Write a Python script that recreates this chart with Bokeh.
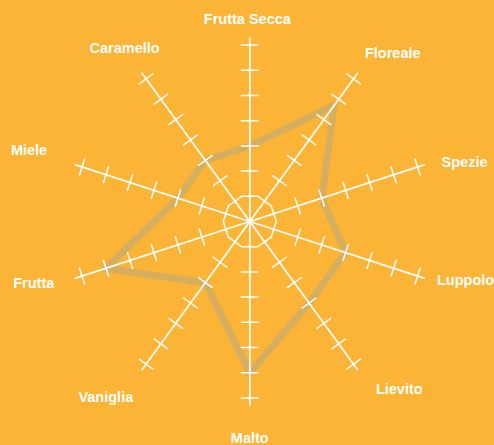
import numpy as np
from bokeh.plotting import figure
from bokeh.models import ColumnDataSource
from bokeh.core.properties import value
from bokeh.embed import file_html
from bokeh.resources import INLINE

# ---- data ----
categories = ["Frutta Secca", "Floreale", "Spezie", "Luppolo", "Lievito",
              "Malto", "Vaniglia", "Frutta", "Miele", "Caramello"]
scores = [3, 5.7, 3, 4, 4, 6, 3, 6, 3, 3]
tick_levels = [2, 3, 4, 5, 6, 7]
inner_level = 1
axis_max = 7.3

# ---- layout / style ----
W, H = 494, 445
PPU = 25.2            # pixels per unit
CX, CY = 249.3, 221.0  # centre in screen pixels
BG = "#FBB436"
DATA_COLOR = "#D6AE5F"
AXIS_COLOR = "white"
TICK_HALF = 9.0 / PPU
LABEL_RX, LABEL_RY = 232.0 / PPU, 208.0 / PPU
label_dx = [-2.5, 6.6, -5.9, -4.9, 13.1, 0.0, -7.6, 4.6, -0.1, 11.2]
label_dy = [5.0, 0.0, 5.0, -5.3, -1.0, 8.0, 7.4, -3.0, -7.7, -5.4]

n = len(categories)
angles = np.deg2rad(90 - 360.0 / n * np.arange(n))
ux, uy = np.cos(angles), np.sin(angles)

p = figure(width=W, height=H,
           x_range=(-CX / PPU, (W - CX) / PPU),
           y_range=(-(H - CY) / PPU, CY / PPU),
           output_backend="svg", toolbar_location=None,
           x_axis_location=None, y_axis_location=None,
           min_border=0, background_fill_color=BG, border_fill_color=BG,
           outline_line_color=None)
p.grid.visible = False

# data polygon
sc = np.array(scores, dtype=float)
p.patch(list(sc * ux), list(sc * uy), fill_color=None, line_color=DATA_COLOR,
        line_width=7, line_join="miter")

# axes
p.segment(x0=[0] * n, y0=[0] * n, x1=list(axis_max * ux), y1=list(axis_max * uy),
          line_color=AXIS_COLOR, line_width=1.7)

# tick marks
tx0, ty0, tx1, ty1 = [], [], [], []
for i in range(n):
    px_, py_ = -uy[i], ux[i]
    for lv in tick_levels:
        bx, by = lv * ux[i], lv * uy[i]
        tx0.append(bx - TICK_HALF * px_); ty0.append(by - TICK_HALF * py_)
        tx1.append(bx + TICK_HALF * px_); ty1.append(by + TICK_HALF * py_)
p.segment(x0=tx0, y0=ty0, x1=tx1, y1=ty1, line_color=AXIS_COLOR, line_width=1.5)

# inner decagon (apothem = inner_level)
dec_ang = angles + np.pi / n
R = inner_level / np.cos(np.pi / n)
p.patch(list(R * np.cos(dec_ang)), list(R * np.sin(dec_ang)), fill_color=None,
        line_color=AXIS_COLOR, line_width=1.5)

# labels
src = ColumnDataSource(dict(x=list(LABEL_RX * ux), y=list(LABEL_RY * uy),
                            t=categories, dx=label_dx, dy=label_dy))
p.text(x="x", y="y", text="t", x_offset="dx", y_offset="dy", source=src,
       text_font=value("Liberation Sans"), text_font_style="bold",
       text_font_size="14.5px", text_color="white",
       text_align="center", text_baseline="middle")

html = file_html(p, INLINE)
html = html.replace("<head>", "<head><style>html,body{margin:0;padding:0;background:%s;overflow:hidden}</style>" % BG, 1)
open("out.html", "w").write(html)
